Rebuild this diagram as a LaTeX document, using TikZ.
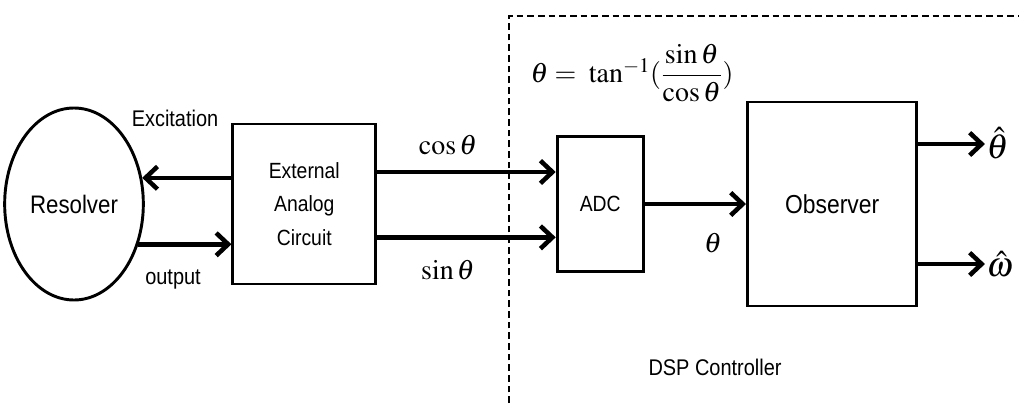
\documentclass[tikz,border=0pt]{standalone}
\usepackage{mathptmx}
\usepackage{fontspec}
\setmainfont[FakeStretch=0.88]{Liberation Sans}
\usetikzlibrary{
  shapes.geometric,
  arrows.meta,
  positioning
}
\tikzset{
  resolverbox/.style={
    ellipse, draw, line width=2.2pt,
    minimum width=104pt, minimum height=144pt,
    font=\fontsize{19}{21}\selectfont
  },
  blockbox/.style={
    draw, line width=2.2pt, align=center,
    font=\fontsize{16.5}{25}\selectfont
  },
  sigarrow/.style={
    -{Straight Barb[length=9pt,width=17pt]},
    line width=3.4pt
  },
  sigtext/.style={
    font=\fontsize{17}{19}\selectfont
  },
  mathlabel/.style={
    font=\fontsize{21}{24}\selectfont
  },
  hatlabel/.style={
    font=\fontsize{26}{28}\selectfont, inner sep=1pt
  },
  dspframe/.style={
    line width=1.4pt, dash pattern=on 5pt off 3pt
  },
}

\begin{document}
\begin{tikzpicture}[x=0.75pt, y=-0.75pt]

  \useasboundingbox (0,0) rectangle (1019,403);

  %% Blocks
  \node[resolverbox] (res) at (74,204) {Resolver};
  \node[blockbox, minimum width=107pt, minimum height=120pt,
        right=65pt of res] (ext) {External\\Analog\\Circuit};
  \node[blockbox, minimum width=64.5pt, minimum height=101pt,
        right=134pt of ext] (adc) {ADC};
  \node[blockbox, minimum width=127pt, minimum height=153pt,
        font=\fontsize{19.5}{21}\selectfont,
        right=76pt of adc] (obs) {Observer};

  %% DSP controller frame
  \draw[dspframe] (509,403) -- (509,16) -- (1019,16);
  \node[sigtext] (dsp) at (715,367) {DSP Controller};

  %% Resolver <-> external circuit
  \draw[sigarrow] (ext.west |- res.21) -- (res.21);
  \draw[sigarrow] (res.328) -- (res.328 -| ext.west);
  \node[sigtext] (exc) at (175,118) {Excitation};
  \node[sigtext] (out) at (173,280) {output};

  %% Circuit -> ADC
  \draw[sigarrow] ([yshift=24pt]ext.east) -- ([yshift=24pt]adc.west);
  \draw[sigarrow] ([yshift=-25pt]ext.east) -- ([yshift=-25pt]adc.west);
  \node[mathlabel] (cosl) at (448,145) {$\cos\theta$};
  \node[mathlabel] (sinl) at (448,270) {$\sin\theta$};

  %% ADC -> observer
  \draw[sigarrow] (adc) -- (obs);
  \node[mathlabel] (thl) at (713,243) {$\theta$};
  \node[mathlabel] (eqn) at (632,73)
    {$\theta = \;\tan^{-1}(\displaystyle\frac{\sin\theta}{\cos\theta})$};

  %% Observer outputs
  \node[hatlabel, anchor=base west] (thhat)
    at ([xshift=50pt,yshift=34pt]obs.east) {$\hat{\theta}$};
  \node[hatlabel, anchor=base west] (omhat)
    at ([xshift=50pt,yshift=-54pt]obs.east) {$\hat{\omega}$};
  \draw[sigarrow] ([yshift=45pt]obs.east) -- ([yshift=45pt]obs.east -| thhat.west);
  \draw[sigarrow] ([yshift=-45pt]obs.east) -- ([yshift=-45pt]obs.east -| omhat.west);

\end{tikzpicture}
\end{document}
